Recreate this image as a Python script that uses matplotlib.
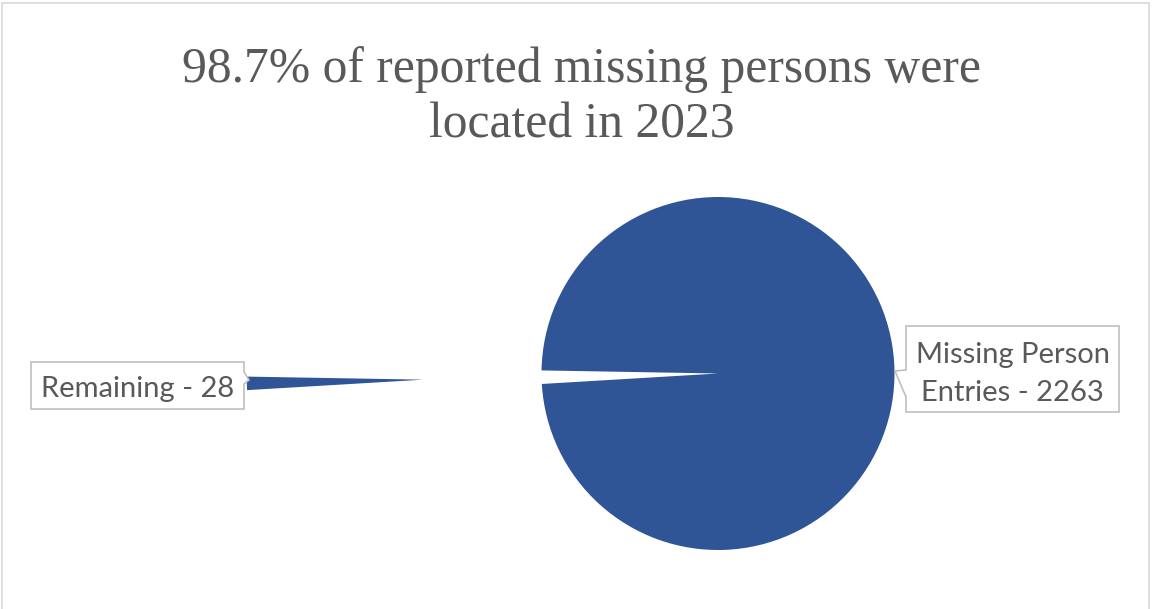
import matplotlib
matplotlib.use("Agg")
import matplotlib.pyplot as plt
from matplotlib.patches import Polygon, Rectangle

# pie data
labels = ["Missing Person Entries", "Remaining"]
counts = [2263, 28]
explode_frac = [0.0, 1.67]

title_lines = ["98.7% of reported missing persons were", "located in 2023"]

W, H = 1153, 609
fig = plt.figure(figsize=(W / 100, H / 100), dpi=100)
ax = fig.add_axes([0, 0, 1, 1])

# work in pixel units, y measured from the top
def fy(y):
    return H - y

radius = 176.5
wedges, _ = ax.pie(
    counts,
    explode=[e * radius for e in explode_frac],
    center=(718, fy(373.5)),
    radius=radius,
    startangle=179,
    counterclock=False,
    colors=["#2F5597", "#2F5597"],
    wedgeprops=dict(linewidth=0, antialiased=True),
    frame=True,
)
ax.set_xlim(0, W)
ax.set_ylim(0, H)
ax.axis("off")

# outer chart border
ax.add_patch(Rectangle((2, fy(640)), 1147, 637, fill=False,
                       edgecolor="#D9D9D9", linewidth=1.2))

for line, base in zip(title_lines, [82, 138]):
    ax.text(582, fy(base), line, ha="center", va="baseline",
            fontsize=35.7, family="Liberation Serif", color="#595959")

# callout boxes
box_style = dict(facecolor="white", edgecolor="#BFBFBF", linewidth=1.2, zorder=3)

right_box = [(906, 326), (1119, 326), (1119, 412), (906, 412),
             (906, 397), (895, 371), (906, 370)]
left_box = [(31, 362), (244, 362), (244, 372), (249, 380),
            (244, 384), (244, 409), (31, 409)]
ax.add_patch(Polygon([(x, fy(y)) for x, y in right_box], closed=True, **box_style))
ax.add_patch(Polygon([(x, fy(y)) for x, y in left_box], closed=True, **box_style))

label_font = dict(fontsize=21, family="Lato", color="#595959", zorder=4,
                  ha="center", va="baseline")
name = labels[0].rsplit(" ", 1)
ax.text(1012.5, fy(363.5), name[0], **label_font)
ax.text(1012.5, fy(401), f"{name[1]} - {counts[0]}", **label_font)
ax.text(137.5, fy(397), f"{labels[1]} - {counts[1]}", **label_font)

fig.savefig("out.png", dpi=100)
